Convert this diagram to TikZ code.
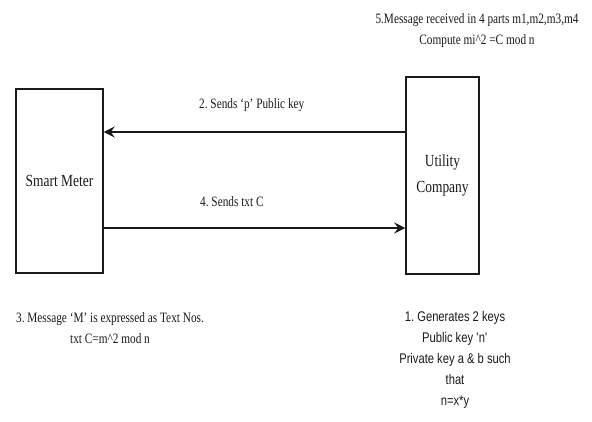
\documentclass[tikz,border=0pt]{standalone}
\usepackage{fontspec}
\setmainfont{Liberation Serif}[FakeStretch=0.79]
\newfontfamily\arialc{Liberation Sans}[FakeStretch=0.80]
\usetikzlibrary{arrows.meta}
\definecolor{ink}{HTML}{1A1A1A}
\tikzset{
  box/.style={draw=ink, line width=1.5pt, fill=white, inner sep=0pt, text=ink, align=center,
    font=\fontsize{17}{26}\selectfont},
  arr/.style={draw=ink, line width=1.5pt, -{Stealth[length=11pt,width=11pt,inset=4pt]}},
  lbl/.style={text=ink, inner sep=0pt, align=center, font=\fontsize{14.3}{21}\selectfont},
  slbl/.style={text=ink, inner sep=0pt, align=center, font=\arialc\fontsize{14}{21}\selectfont},
}
\frenchspacing
\begin{document}
\begin{tikzpicture}[x=1pt,y=-1pt]
\useasboundingbox[fill=white] (0,0) rectangle (592,421);
\node[box, minimum width=87pt, minimum height=184pt] (sm) at (59.5,181) {Smart Meter};
\node[box, minimum width=73pt, minimum height=197pt] (uc) at (442.5,175.5) {Utility\\Company};
\coordinate (a2) at (250,132);
\coordinate (a4) at (250,228);
\draw[arr] (uc.west |- a2) -- (sm.east |- a2);
\draw[arr] (sm.east |- a4) -- (uc.west |- a4);
\node[lbl, anchor=west] (l2) at (199,105) {2. Sends `p' Public key};
\node[lbl, anchor=west] (l4) at (200,202) {4. Sends txt C};
\node[lbl] (t5) at (477,31) {5.Message received in 4 parts m1,m2,m3,m4\\Compute mi\^{}2 =C mod n};
\node[lbl] (t3) at (110,328) {3. Message `M' is expressed as Text Nos.\\txt C=m\^{}2 mod n};
\node[slbl] (t1) at (455,360) {1. Generates 2 keys\\Public key \textquotesingle n\textquotesingle\\Private key a \& b such\\that\\n=x*y};
\end{tikzpicture}
\end{document}
